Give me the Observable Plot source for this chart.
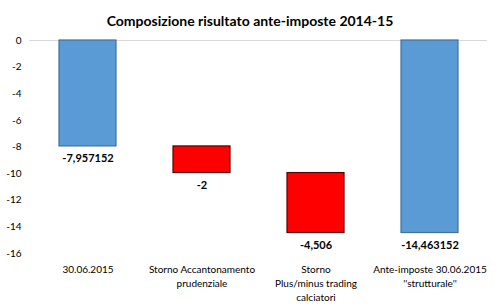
<!DOCTYPE html>
<html>
<head>
<meta charset="utf-8">
<script src="https://cdn.jsdelivr.net/npm/d3@7"></script>
<script src="https://cdn.jsdelivr.net/npm/@observablehq/plot@0.6"></script>
<style>
  body { margin: 0; background: #fff; font-family: Lato, "Open Sans", sans-serif; }
  #title { height: 30px; width: 500px; text-align: center; font-weight: bold; font-size: 14px; line-height: 14px; padding-top: 14px; box-sizing: border-box; color: #000; }
</style>
</head>
<body>
<div id="title">Composizione risultato ante-imposte 2014-15</div>
<div id="chart"></div>
<script>
const categories = ["30.06.2015", "Storno Accantonamento\nprudenziale", "Storno\nPlus/minus trading\ncalciatori", "Ante-imposte 30.06.2015\n''strutturale''"];
const values = [-7.957152, -2, -4.506, -14.463152];
const kinds = ["total", "delta", "delta", "total"];
const valueLabels = ["-7,957152", "-2", "-4,506", "-14,463152"];
const yTicks = [0, -2, -4, -6, -8, -10, -12, -14, -16];

let cum = 0;
const rows = categories.map((c, i) => {
  let y1, y2;
  if (kinds[i] === "total") { y1 = 0; y2 = values[i]; cum = values[i]; }
  else { y1 = cum; y2 = cum + values[i]; cum = y2; }
  return { cat: c, y1, y2, kind: kinds[i], label: valueLabels[i] };
});

const chart = Plot.plot({
  width: 500,
  height: 278,
  marginTop: 10,
  marginBottom: 55,
  marginLeft: 29,
  marginRight: 13,
  style: { fontFamily: "Lato, 'Open Sans', sans-serif", fontSize: "10px", color: "#000" },
  x: { domain: categories, paddingInner: 0.5, paddingOuter: 0.25, label: null },
  y: { domain: [-16, 0], ticks: yTicks, label: null },
  marks: [
    Plot.axisY({ ticks: yTicks, tickSize: 0, tickPadding: 8, fontSize: 10, tickFormat: d => String(d) }),
    Plot.axisX({ tickSize: 0, tickPadding: 10, fontSize: 10, lineHeight: 1.4 }),
    Plot.ruleY([0], { stroke: "#d9d9d9", strokeWidth: 1 }),
    Plot.barY(rows, {
      x: "cat", y1: "y1", y2: "y2",
      fill: d => d.kind === "total" ? "#5b9bd5" : "#ff0000",
      stroke: d => d.kind === "total" ? "#41719c" : "#5a0000",
      strokeWidth: 1.2
    }),
    Plot.text(rows, {
      x: "cat", y: d => Math.min(d.y1, d.y2), text: "label",
      dy: 12, lineAnchor: "middle", fontWeight: "bold", fontSize: 11, fill: "#000"
    })
  ]
});
document.getElementById("chart").appendChild(chart);
</script>
</body>
</html>
